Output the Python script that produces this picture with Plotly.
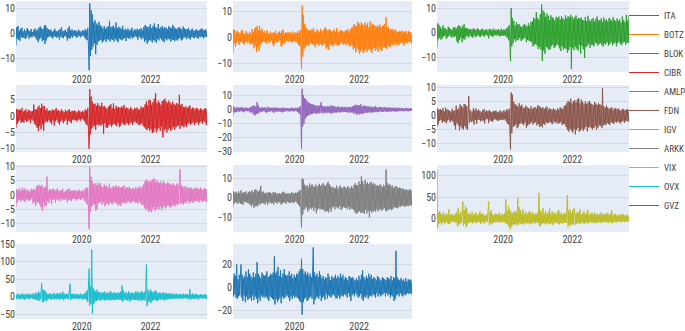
import pandas as pd
import plotly.graph_objects as go

# Weekly sampling of the period shown
start_date = "2018-02-01"
n_points = 291
dates = pd.date_range(start_date, periods=n_points, freq="7D")

names = ["ITA", "BOTZ", "BLOK", "CIBR", "AMLP", "FDN", "IGV", "ARKK", "VIX", "OVX", "GVZ"]
colors = ["#1f77b4", "#ff7f0e", "#2ca02c", "#d62728", "#9467bd", "#8c564b",
          "#e377c2", "#7f7f7f", "#bcbd22", "#17becf", "#1f77b4"]

# one row = one quarter (13 weeks)
ita = [-4.8, 2.6, -1.9, 3.1, -2.4, 1.2, -2.8, 2.0, -1.3, 2.4, -1.7, 0.9, -1.5,
       1.8, -2.1, 1.1, -1.6, 2.3, -0.8, 1.4, -2.0, 1.0, -1.2, 1.9, -1.4, 0.7,
       -1.1, 1.6, -0.9, 2.1, -1.8, 1.3, -2.6, 1.7, -3.4, 2.5, -2.2, 2.9, -1.6,
       2.2, -3.0, 1.8, -2.5, 3.3, -4.1, 3.5, -2.7, 2.4, -1.5, 1.9, -1.2, 1.4,
       -1.0, 1.7, -1.4, 0.8, -1.9, 1.2, -0.9, 2.0, -1.3, 1.1, -1.6, 0.9, -1.2,
       1.5, -2.3, 1.9, -1.1, 2.7, -1.5, 1.0, -1.8, 1.3, -0.9, 1.6, -1.2, 0.8,
       -2.8, 2.2, -1.7, 3.1, -2.0, 1.4, -1.1, 1.8, -1.5, 1.2, -0.8, 1.4, -1.0,
       1.3, -1.6, 0.9, -1.2, 1.7, -0.9, 1.1, -1.4, 0.8, -1.0, 1.5, -0.7, 1.2,
       -1.4, 1.8, -2.2, 1.3, -2.6, 2.4, -4.6, -14.7, 12.3, -9.0, 9.5, -6.5, 7.8,
       -5.2, 4.6, -3.8, 5.5, -8.2, 4.2, -4.5, 3.6, -3.1, 4.8, -2.7, 3.4, -2.5,
       2.9, -3.6, 2.2, -2.8, 3.1, -2.4, 1.9, -3.3, 2.6, -2.1, 3.0, -2.6, 5.2,
       -3.0, 2.6, -2.2, 2.9, -2.5, 3.3, -3.1, 2.4, -2.0, 4.5, -2.7, 2.1, -3.4,
       2.8, -1.9, 2.5, -2.3, 1.8, -2.6, 3.2, -2.0, 1.6, -1.7, 2.0, -2.9, 1.4,
       -1.5, 2.2, -1.8, 1.3, -2.1, 1.6, -1.2, 2.4, -1.9, 1.1, -1.4, 1.8, -1.0,
       1.6, -1.3, 2.0, -2.4, 1.5, -1.1, 1.9, -1.7, 2.3, -2.2, 1.3, -1.6, 2.7,
       -3.3, 3.5, -2.6, 3.0, -4.0, 2.5, -3.1, 2.9, -2.4, 3.8, -2.8, 2.2, -3.5,
       3.1, -2.5, 4.2, -3.0, 2.6, -3.6, 2.3, -2.1, 3.9, -2.7, 2.0, -1.8, 2.6,
       -2.3, 3.2, -2.9, 2.1, -3.4, 2.7, -1.9, 2.4, -2.6, 1.8, -2.2, 3.0, -2.0,
       2.5, -3.1, 2.2, -2.6, 3.6, -2.4, 2.8, -3.0, 2.1, -2.5, 1.9, -2.8, 2.4,
       -2.0, 2.6, -1.8, 2.2, -2.7, 1.7, -2.3, 2.9, -1.6, 2.1, -1.4, 1.9, -2.2,
       1.8, -1.5, 2.4, -1.9, 1.3, -2.3, 1.7, -1.2, 2.0, -1.6, 1.1, -1.8, 1.5,
       -1.3, 1.9, -1.6, 1.2, -2.0, 1.5, -1.1, 1.7, -1.4, 2.2, -1.2, 1.6, -1.9,
       1.4, -1.1, 1.8, -1.3, 1.0]

botz = [-6.3, 3.2, -2.4, 2.8, -3.5, 1.9, -2.2, 2.6, -1.5, 2.1, -2.9, 1.4, -1.8,
        2.4, -1.7, 3.0, -2.2, 1.6, -2.8, 1.3, -1.9, 2.5, -1.4, 1.8, -2.3, 1.2,
        -1.6, 2.2, -2.7, 1.5, -2.0, 3.3, -2.5, 2.0, -4.2, 3.4, -3.0, 4.1, -5.6,
        4.4, -3.6, 2.9, -5.2, 4.6, -3.1, 2.7, -2.3, 3.5, -1.8, 2.2, -1.5, 2.6,
        -1.9, 1.6, -2.4, 2.9, -1.3, 1.8, -2.1, 1.4, -1.7, 2.3, -1.2, 1.5, -2.6,
        2.0, -3.4, 1.7, -2.2, 2.8, -1.6, 1.3, -2.0, 1.9, -1.4, 2.4, -1.1, 1.6,
        -3.6, 2.5, -2.9, 3.1, -1.8, 1.4, -2.3, 2.0, -1.5, 1.7, -1.2, 2.2, -1.6,
        1.8, -1.4, 2.1, -1.7, 1.3, -1.9, 2.4, -1.2, 1.6, -1.5, 2.0, -1.3, 1.7,
        -2.1, 2.6, -2.8, 1.9, -3.2, 3.0, -5.0, -12.3, 12.5, -7.5, 8.8, -4.6, 5.4,
        -3.9, 4.1, -3.0, 3.5, -2.7, 3.0, -3.4, 2.6, -2.4, 3.2, -2.1, 2.8, -2.6,
        3.6, -2.9, 2.5, -3.8, 2.2, -2.6, 3.1, -2.4, 2.7, -3.3, 2.0, -2.5, 3.4,
        -2.8, 2.3, -3.2, 2.9, -2.2, 3.5, -2.6, 4.0, -4.4, 3.1, -3.6, 2.7, -4.8,
        3.3, -2.5, 2.9, -3.2, 2.2, -2.8, 2.6, -3.5, 3.1, -2.4, 2.0, -3.0, 3.7,
        -2.7, 2.4, -3.3, 2.1, -2.6, 3.0, -2.2, 2.8, -1.9, 2.5, -2.9, 2.2, -2.4,
        2.9, -3.1, 2.6, -2.3, 3.4, -2.7, 2.2, -3.6, 3.2, -2.9, 3.8, -3.3, 4.1,
        -4.7, 5.3, -4.0, 4.6, -5.8, 4.4, -3.9, 6.2, -5.0, 5.6, -6.4, 4.8, -5.5,
        6.0, -4.6, 5.2, -6.1, 4.4, -5.3, 5.8, -4.2, 4.9, -5.7, 5.5, -4.8, 4.0,
        -4.3, 6.3, -5.1, 4.7, -6.0, 5.4, -4.5, 5.0, -3.9, 4.6, -5.2, 4.1, -4.4,
        4.8, -5.6, 4.2, -3.8, 5.1, -4.7, 3.9, -5.3, 4.5, -4.0, 4.9, -3.6, 5.3,
        -4.1, 8.0, -4.5, 3.6, -3.1, 4.2, -3.5, 2.9, -3.8, 3.3, -2.6, 3.4, -3.0,
        2.5, -2.8, 3.1, -2.2, 2.7, -3.2, 2.3, -2.4, 2.0, -2.9, 2.6, -2.1, 2.4,
        -1.8, 2.7, -2.4, 2.0, -3.2, 2.3, -1.9, 2.5, -2.2, 1.7, -2.0, 2.6, -1.8,
        2.2, -1.6, 2.0, -2.3, 1.5]

blok = [-5.8, 3.8, -2.6, 3.2, -1.9, 2.4, -2.8, 1.6, -2.2, 3.0, -1.5, 2.0, -1.2,
        1.7, -2.4, 1.3, -1.8, 2.5, -1.4, 1.9, -1.1, 1.5, -2.0, 1.2, -1.6, 2.2,
        -1.8, 2.2, -1.3, 1.7, -3.5, 2.5, -4.2, 3.1, -3.0, 2.6, -2.0, 1.9, -3.8,
        2.9, -2.4, 3.4, -2.7, 1.9, -1.5, 2.0, -1.2, 1.6, -1.9, 1.3, -1.0, 1.5,
        -1.6, 1.3, -2.0, 1.8, -1.1, 1.5, -1.8, 1.2, -1.4, 1.9, -1.0, 1.3, -1.5,
        1.1, -1.7, 1.4, -0.9, 1.6, -1.3, 1.0, -1.5, 1.2, -0.8, 1.4, -1.1, 0.9,
        -2.3, 1.6, -1.0, 1.4, -1.3, 1.1, -1.6, 1.8, -1.2, 1.0, -0.9, 1.3, -1.1,
        1.2, -0.9, 1.5, -1.3, 1.0, -1.4, 1.7, -1.1, 0.9, -1.2, 1.4, -1.0, 1.3,
        -1.4, 1.7, -2.0, 2.3, -3.0, 3.1, -3.8, -11.5, 10.0, -5.5, 6.0, -4.2, 4.8,
        -2.6, 2.9, -3.5, 4.2, -2.8, 3.4, -3.0, 3.5, -2.1, 2.6, -3.3, 2.2, -2.7,
        2.9, -2.4, 3.6, -2.0, 3.1, -3.8, 2.5, -2.9, 4.0, -3.2, 2.8, -3.5, 4.4,
        -3.8, 4.7, -5.5, 6.2, -4.9, 5.6, -4.4, 8.4, -5.1, 6.0, -6.6, 5.3, -5.8,
        7.5, -6.8, 11.5, -11.4, 9.0, -7.2, 8.3, -8.5, 6.4, -5.7, 7.8, -6.1, 6.9,
        -7.0, 5.2, -6.6, 7.1, -5.4, 6.3, -4.9, 5.8, -6.2, 5.0, -5.6, 6.5, -4.7,
        5.9, -5.1, 6.6, -6.3, 5.4, -7.4, 6.8, -5.5, 6.0, -6.9, 5.3, -6.2, 7.1,
        -6.6, 5.9, -8.0, 6.8, -7.1, 6.2, -5.8, 7.3, -14.7, 6.5, -6.0, 5.6, -7.0,
        6.4, -5.6, 7.0, -6.4, 5.5, -7.2, 6.1, -5.0, 5.8, -8.6, 6.2, -5.3, 5.1,
        -6.7, 5.1, -10.2, 6.4, -5.8, 4.7, -5.2, 6.9, -4.4, 5.3, -6.1, 4.8, -5.0,
        5.6, -4.8, 6.0, -5.5, 4.6, -3.9, 5.7, -4.3, 6.6, -5.1, 4.9, -4.5, 5.2,
        -4.0, 5.8, -4.9, 4.4, -5.6, 6.2, -4.3, 5.0, -4.7, 5.5, -3.9, 4.6, -5.2,
        6.0, -4.6, 5.4, -3.8, 4.9, -5.1, 6.3, -4.4, 5.2, -4.0, 4.7, -5.5, 5.8,
        -4.2, 4.8, -3.6, 5.5, -4.5, 4.1, -5.0, 6.6, -4.0, 5.1, -3.7, 4.4, -4.8,
        7.3, -4.2, 5.0, -3.9, 7.0]

cibr = [-3.8, 2.2, -2.4, 1.9, -1.6, 2.0, -1.3, 1.8, -2.1, 2.5, -1.7, 1.4, -2.0,
        1.6, -1.2, 2.1, -1.8, 1.3, -1.5, 1.9, -1.1, 1.7, -2.2, 1.4, -1.0, 1.5,
        -1.4, 3.5, -2.3, 2.1, -2.8, 1.9, -3.6, 2.6, -4.6, 3.2, -3.0, 2.4, -4.0,
        3.8, -2.6, 2.9, -4.5, 3.1, -2.0, 1.7, -1.5, 2.3, -1.9, 1.5, -1.2, 1.8,
        -1.9, 1.5, -2.5, 2.0, -1.3, 1.7, -2.9, 1.9, -1.6, 2.4, -1.1, 1.6, -2.0,
        1.8, -2.6, 1.4, -1.7, 2.1, -1.3, 1.6, -2.2, 1.2, -1.5, 1.9, -1.0, 1.4,
        -2.6, 1.8, -1.4, 2.1, -1.7, 1.3, -2.2, 1.6, -1.1, 1.5, -1.3, 1.7, -1.2,
        1.4, -1.6, 1.1, -1.3, 1.8, -1.0, 1.5, -1.4, 1.2, -0.9, 1.6, -1.1, 1.3,
        -1.6, 2.0, -2.3, 1.7, -2.8, 2.5, -4.4, -10.0, 8.2, -5.6, 6.0, -3.8, 4.4,
        -3.3, 3.6, -2.9, 3.8, -4.2, 3.1, -2.6, 4.0, -2.8, 3.3, -2.5, 2.9, -3.0,
        4.1, -2.4, 2.9, -5.5, 3.1, -2.2, 2.6, -3.5, 2.2, -3.6, 2.8, -2.9, 3.2,
        -2.6, 3.6, -3.3, 2.4, -2.7, 3.9, -2.3, 2.2, -2.7, 3.1, -3.1, 2.5, -2.2,
        2.8, -3.4, 2.5, -3.0, 2.9, -2.1, 2.7, -2.5, 3.4, -2.8, 2.3, -2.4, 2.6,
        -2.1, 2.4, -2.7, 2.0, -2.3, 2.8, -1.9, 2.2, -2.6, 1.8, -2.0, 2.5, -1.7,
        2.3, -2.0, 2.6, -2.4, 1.9, -2.8, 2.1, -2.5, 2.9, -2.2, 2.4, -3.0, 2.7,
        -3.4, 3.6, -3.9, 4.5, -4.3, 3.2, -3.7, 5.0, -4.6, 4.8, -4.0, 3.5, -5.2,
        4.3, -4.9, 5.3, -3.8, 7.0, -5.0, 3.9, -4.2, 4.7, -3.6, 4.1, -4.5, 3.5,
        -3.2, 4.6, -6.5, 4.9, -4.4, 5.3, -3.8, 4.5, -5.0, 3.9, -4.2, 4.7, -3.6,
        4.1, -4.5, 3.5, -3.9, 4.4, -3.2, 3.7, -4.1, 3.3, -3.5, 4.0, -3.0, 3.6,
        -2.9, 6.5, -3.9, 3.3, -2.9, 3.7, -3.1, 2.8, -3.4, 2.6, -2.7, 3.0, -3.3,
        2.5, -2.4, 2.8, -2.1, 3.2, -2.6, 2.2, -2.3, 2.6, -1.9, 2.4, -2.8, 2.0,
        -2.2, 2.5, -1.9, 2.3, -2.6, 1.8, -2.1, 2.4, -1.7, 2.0, -2.4, 1.9, -1.6,
        2.2, -1.9, 2.4, -2.8, 2.0]

amlp = [-4.2, 2.3, -1.8, 1.5, -2.0, 1.2, -1.6, 1.9, -1.1, 1.4, -1.7, 1.3, -0.9,
        1.6, -1.2, 1.8, -1.4, 1.1, -1.9, 1.3, -0.8, 1.5, -1.0, 1.2, -1.3, 0.9,
        -1.1, 1.4, -2.2, 1.8, -1.4, 2.5, -2.8, 3.0, -3.5, 2.6, -4.1, 2.2, -3.0,
        5.2, -3.0, 3.3, -2.4, 1.5, -1.8, 1.2, -1.6, 1.9, -1.2, 1.4, -1.1, 1.7,
        -1.5, 1.0, -2.3, 1.5, -1.8, 2.0, -1.3, 1.1, -1.6, 1.4, -0.9, 1.2, -1.4,
        1.3, -2.4, 1.6, -1.2, 1.1, -1.7, 1.4, -1.0, 1.3, -1.5, 1.0, -1.2, 0.8,
        -1.6, 1.2, -2.1, 1.6, -1.3, 1.0, -1.5, 1.1, -0.9, 1.3, -1.1, 0.9, -1.2,
        1.0, -1.3, 0.8, -1.1, 1.4, -0.9, 1.2, -1.5, 0.9, -1.0, 1.3, -0.8, 1.1,
        -1.6, 1.2, -2.1, 1.8, -3.2, 2.5, -6.0, -28.0, 15.0, -12.0, 10.5, -10.0, 8.2,
        -6.5, 7.5, -5.2, 6.0, -4.5, 5.3, -4.0, 4.6, -3.5, 4.1, -3.2, 3.8, -3.0,
        3.6, -2.7, 3.2, -2.5, 2.9, -3.3, 2.6, -2.4, 3.0, -2.8, 2.7, -2.4, 3.4,
        5.4, -2.1, 2.5, -2.9, 2.2, -2.0, 2.6, -2.3, 1.9, -2.5, 2.4, -1.8, 2.1,
        -2.6, 2.8, -2.2, 2.5, -3.0, 2.9, -2.4, 2.2, -1.9, 2.3, -2.1, 1.8, -2.2,
        2.0, -1.7, 2.2, -1.9, 1.6, -2.0, 1.8, -1.5, 2.1, -1.8, 1.5, -1.6, 1.9,
        -1.7, 2.0, -1.8, 1.6, -2.2, 1.9, -1.5, 1.7, -2.1, 1.6, -1.9, 2.3, -2.0,
        2.5, -3.0, 2.9, -2.4, 3.5, -3.8, 3.1, -2.7, 3.3, -3.6, 2.8, -3.1, 3.9,
        -2.6, 2.4, -3.4, 2.7, -2.2, 2.9, -2.5, 2.3, -2.0, 2.6, -2.3, 2.1, -1.9,
        2.4, -2.1, 1.8, -2.4, 2.2, -1.7, 1.9, -2.0, 1.6, -1.8, 2.7, -1.5, 1.7,
        -1.9, 1.5, -1.6, 2.0, -1.4, 1.8, -1.3, 1.6, -1.7, 1.4, -1.5, 1.9, -1.2,
        1.6, -1.4, 1.3, -1.7, 1.5, -1.2, 1.8, -1.3, 1.1, -1.5, 1.4, -1.0, 1.2,
        -1.3, 1.5, -1.1, 1.2, -1.6, 1.0, -1.2, 1.4, -0.9, 1.3, -1.1, 0.9, -1.0,
        1.2, -0.9, 1.1, -1.3, 0.8, -1.0, 1.2, -0.8, 1.0, -1.1, 0.9, -1.2, 0.8,
        -1.0, 1.1, -0.8, 1.0, -0.9]

fdn = [-4.0, 2.6, -3.0, 2.2, -1.8, 2.4, -1.5, 2.0, -2.5, 2.8, -1.9, 1.6, -2.2,
       2.9, -2.7, 2.3, -1.7, 2.1, -1.4, 1.8, -2.3, 1.5, -1.6, 2.5, -2.0, 1.7,
       -3.4, 2.0, -4.8, 3.6, -2.6, 2.2, -3.3, 2.7, -5.2, 4.1, -3.8, 3.5, -4.5,
       3.0, -4.9, 4.2, -3.6, 4.0, -4.5, 3.4, -5.0, 4.1, 7.0, -2.6, 2.1, -1.7,
       -2.2, 1.6, -1.9, 2.7, -3.1, 2.0, -1.4, 2.6, -2.9, 1.8, -1.5, 2.2, -1.3,
       1.7, -2.0, 1.2, -1.6, 2.0, -1.8, 2.4, -2.7, 1.5, -1.3, 1.9, -1.1, 1.6,
       -2.6, 2.1, -1.7, 1.5, -1.9, 1.3, -2.2, 1.8, -1.4, 1.6, -1.2, 1.9, -1.5,
       1.4, -1.8, 1.2, -1.6, 1.9, -1.3, 1.7, -1.5, 1.1, -1.4, 2.0, -1.2, 1.5,
       -1.8, 2.4, -2.7, 2.0, -3.1, 2.6, -4.5, -12.0, 8.3, -6.2, 7.5, -4.0, 5.0,
       -3.6, 4.2, -3.1, 3.7, -4.4, 3.3, -3.8, 4.5, -2.9, 3.5, -2.6, 4.0, -2.8,
       3.0, -3.3, 2.7, -2.4, 3.6, -4.2, 3.2, -3.5, 2.8, -3.0, 2.5, -2.7, 3.4,
       -2.2, 2.4, -3.1, 2.9, -2.5, 3.1, -2.3, 2.6, -3.4, 3.8, -2.9, 3.5, -4.0,
       3.2, -3.6, 2.6, -4.1, 3.0, -2.8, 2.5, -3.2, 2.9, -2.4, 3.3, -2.6, 2.2,
       -2.5, 2.8, -2.1, 2.4, -2.7, 2.2, -2.9, 2.6, -2.0, 2.3, -2.6, 1.9, -2.3,
       2.6, -2.9, 2.2, -2.5, 3.0, -2.3, 2.7, -3.2, 2.4, -2.8, 3.5, -3.0, 3.8,
       -4.0, 4.6, -5.0, 5.4, -5.6, 4.9, -4.7, 6.1, -5.3, 4.4, -6.0, 5.2, -4.8,
       5.6, -6.6, 4.8, -5.1, 5.9, -4.3, 6.3, -5.7, 4.5, -5.2, 5.8, -4.6, 5.0,
       -5.4, 4.0, -4.6, 5.1, -3.8, 4.3, -5.5, 4.7, -4.1, 5.3, -3.9, 4.6, -4.4,
       4.2, -4.8, 3.7, -4.3, 4.9, -3.6, 4.4, -5.0, 3.9, -4.2, 4.6, -3.4, 4.1,
       -3.5, 3.8, -4.4, 9.8, -3.5, 3.4, -3.0, 2.9, -3.3, 3.7, -2.6, 3.0, -2.8,
       2.5, -3.2, 2.7, -2.3, 3.1, -2.5, 2.2, -2.9, 2.6, -2.1, 2.8, -2.4, 2.3,
       -2.0, 2.6, -2.3, 2.1, -2.7, 1.9, -2.2, 2.5, -1.8, 2.3, -2.5, 2.0, -1.9,
       2.2, -1.8, 2.4, -2.1, 1.9]

igv = [-4.2, 2.0, -2.6, 1.8, -1.5, 2.3, -1.9, 1.4, -2.2, 2.6, -1.6, 1.9, -2.0,
       2.4, -2.5, 1.7, -1.4, 2.0, -1.8, 1.5, -2.1, 1.3, -1.6, 2.2, -1.2, 1.8,
       -3.0, 2.2, -2.4, 1.9, -3.8, 2.9, -2.6, 3.4, -2.5, 3.6, -3.4, 3.1, -4.3,
       3.6, -5.5, 2.8, -2.8, 2.5, -4.1, 3.1, -3.6, 6.5, -2.0, 1.5, -2.7, 2.2,
       -1.4, 1.9, -3.2, 2.0, -1.7, 2.3, -1.5, 1.6, -2.8, 1.9, -1.5, 2.4, -1.8,
       1.4, -2.3, 1.7, -1.2, 1.6, -1.9, 2.2, -1.4, 1.1, -1.7, 1.5, -1.3, 1.9,
       -2.6, 2.0, -1.6, 2.4, -1.8, 1.4, -2.1, 1.7, -1.3, 1.5, -1.2, 1.8, -1.4,
       1.5, -1.9, 1.3, -1.5, 2.0, -1.2, 1.6, -1.7, 1.2, -1.4, 1.8, -1.1, 1.4,
       -1.9, 2.2, -2.5, 2.8, -3.3, 2.4, -4.6, -12.0, 10.0, -6.0, 6.5, -4.1, 4.9,
       -3.5, 3.8, -3.2, 4.2, -5.4, 3.4, -5.0, 4.4, -2.9, 3.6, -2.7, 4.3, -2.5,
       3.0, -3.3, 2.8, -2.4, 3.7, -3.9, 3.0, -3.1, 3.4, -2.8, 2.6, -3.5, 4.0,
       -2.5, 2.4, -2.9, 2.7, -3.2, 3.1, -2.3, 2.9, -2.7, 3.5, -3.0, 2.5, -3.6,
       3.2, -3.3, 2.8, -3.7, 2.6, -2.9, 3.0, -2.5, 3.4, -2.7, 2.3, -3.0, 2.7,
       -2.4, 2.6, -2.2, 2.9, -2.6, 2.1, -2.8, 2.4, -2.0, 2.5, -2.3, 2.0, -2.6,
       2.8, -2.5, 2.3, -3.0, 2.6, -2.2, 3.1, -2.8, 2.5, -3.3, 3.0, -3.6, 3.8,
       -4.3, 4.9, -5.2, 5.5, -4.8, 5.1, -5.9, 4.6, -5.4, 5.2, -6.0, 4.7, -5.0,
       5.6, -4.2, 5.9, -5.5, 4.4, -4.9, 5.3, -4.1, 4.5, -5.0, 4.2, -3.9, 4.8,
       -5.3, 4.1, -4.5, 5.0, -3.9, 4.2, -4.7, 3.8, -4.0, 4.6, -3.6, 4.3, -4.1,
       3.9, -4.4, 3.5, -3.8, 4.2, -3.3, 3.7, -4.0, 3.2, -3.6, 4.1, -3.1, 3.6,
       -3.3, 4.0, 9.2, -3.1, 3.5, -2.8, 3.0, -3.4, 2.7, -2.5, 3.2, -2.9, 2.4,
       2.8, -2.1, 2.5, -3.0, 2.6, -2.2, 2.6, -2.4, 2.1, -2.8, 2.3, -2.0, 2.5,
       -2.2, 2.6, -1.9, 2.3, -2.5, 2.0, -2.3, 2.7, -1.8, 2.2, -2.4, 1.9, -2.1,
       2.4, -1.9, 2.2, -2.5, 2.0]

arkk = [-4.5, 3.4, -3.0, 2.7, -2.1, 3.1, -2.5, 2.2, -3.0, 3.4, -2.3, 2.6, -2.8,
        3.9, -3.1, 2.4, -3.6, 2.9, -2.2, 2.7, -1.9, 3.3, -2.6, 2.1, -2.4, 3.0,
        -2.9, 3.5, -3.6, 2.9, -4.4, 3.8, -3.2, 2.8, -5.0, 4.0, -4.2, 4.5, -3.9,
        3.6, -4.3, 3.2, -3.0, 4.1, -3.4, 6.2, -2.7, 2.8, -2.4, 3.3, -2.9, 2.2,
        -3.3, 2.7, -2.0, 2.5, -3.7, 2.8, -2.5, 3.0, -2.2, 2.6, -2.9, 2.1, -2.4,
        2.9, -3.4, 2.6, -2.1, 2.9, -2.6, 2.0, -2.9, 2.4, -1.8, 2.3, -2.5, 2.0,
        -3.4, 2.6, -2.8, 3.2, -2.1, 2.9, -2.6, 2.0, -2.9, 2.4, -1.8, 2.3, -2.2,
        2.5, -2.7, 2.0, -2.4, 3.0, -2.1, 2.6, -2.8, 2.2, -2.0, 2.7, -1.9, 2.4,
        -2.7, 3.0, -3.4, 3.6, -4.5, 4.0, -6.0, -15.0, 10.0, -8.5, 9.3, -6.2, 6.8,
        -5.4, 5.9, -4.6, 6.5, -7.0, 5.2, -6.1, 7.4, -5.0, 6.3, -5.7, 7.0, -4.8,
        6.0, -6.6, 5.5, -5.1, 6.9, -7.8, 5.7, -6.0, 6.4, -5.3, 7.2, -5.9, 6.1,
        -5.6, 6.8, -6.2, 7.5, -5.8, 6.6, -7.1, 6.0, -6.5, 7.3, -6.8, 8.2, -7.4,
        7.0, -5.4, 6.1, -7.0, 5.2, -4.8, 5.7, -4.3, 4.8, -5.9, 5.1, -4.6, 6.3,
        -5.0, 4.4, -5.5, 5.6, -4.2, 6.5, -6.2, 4.9, -5.3, 5.2, -4.5, 5.8, -4.9,
        5.4, -5.1, 4.7, -5.8, 5.9, -4.6, 5.3, -6.0, 4.8, -5.4, 6.1, -5.6, 5.0,
        -5.9, 6.6, -6.9, 7.5, -7.8, 6.6, -8.0, 6.3, -7.2, 8.4, -6.7, 7.1, -7.5,
        11.0, -7.7, 8.6, -7.4, 6.8, -8.3, 9.2, -6.0, 7.3, -7.9, 8.0, -6.6, 7.1,
        -10.0, 7.7, -6.5, 8.2, -7.4, 6.8, -7.0, 7.6, -6.3, 6.9, -7.1, 6.2, -5.8,
        6.5, -6.8, 5.9, -6.2, 7.0, -5.6, 6.3, -6.6, 5.4, -6.0, 6.7, -5.2, 6.1,
        -6.5, 14.5, -6.8, 7.7, -6.2, 6.4, -5.9, 7.0, -5.5, 5.8, -6.3, 6.5, -5.7,
        5.0, -4.7, 5.6, -5.0, 6.1, -4.9, 5.4, -5.3, 4.8, -4.4, 5.3, -4.6, 5.0,
        -4.1, 4.5, -3.9, 4.8, -4.3, 4.0, -4.6, 4.4, -3.8, 4.2, -4.0, 3.7, -4.2,
        4.5, -3.6, 4.1, -3.9, 3.8]

vix = [115.0, -22.0, 14.0, -12.0, 18.0, -9.0, 12.0, -14.0, 9.0, -8.0, 15.0, -11.0, 8.0,
       -10.0, 12.0, -7.0, 9.0, -13.0, 22.0, -12.0, 8.0, -9.0, 11.0, -6.0, 10.0, -8.0,
       7.0, -9.0, 12.0, -8.0, 15.0, -18.0, 25.0, -14.0, 10.0, -12.0, 16.0, -10.0, 19.0,
       40.0, -16.0, 20.0, -12.0, 30.0, -20.0, 24.0, -15.0, 11.0, -9.0, 13.0, -10.0, 9.0,
       -8.0, 16.0, -11.0, 9.0, -7.0, 12.0, -9.0, 14.0, -10.0, 8.0, -8.0, 11.0, -7.0,
       18.0, -12.0, 10.0, -9.0, 13.0, -8.0, 9.0, -11.0, 7.0, -6.0, 10.0, -8.0, 12.0,
       40.0, -15.0, 14.0, -10.0, 20.0, -13.0, 10.0, -9.0, 8.0, -7.0, 12.0, -9.0, 11.0,
       -8.0, 9.0, -7.0, 14.0, -10.0, 8.0, -6.0, 11.0, -9.0, 10.0, -7.0, 12.0, -10.0,
       45.0, -12.0, 18.0, -14.0, 30.0, -20.0, 22.0, -25.0, 15.0, -18.0, 12.0, -14.0, 16.0,
       -12.0, 18.0, -16.0, 14.0, -12.0, 48.0, -15.0, 27.0, -10.0, 20.0, -13.0, 12.0, -11.0,
       22.0, -14.0, 10.0, -9.0, 16.0, -12.0, 11.0, -10.0, 14.0, -11.0, 18.0, -13.0, 12.0,
       -10.0, 15.0, -12.0, 9.0, -8.0, 13.0, -11.0, 10.0, -9.0, 14.0, -10.0, 60.0, -18.0,
       20.0, -15.0, 14.0, -12.0, 25.0, -10.0, 12.0, -11.0, 18.0, -14.0, 11.0, -9.0, 15.0,
       -13.0, 24.0, -12.0, 10.0, -10.0, 17.0, -15.0, 12.0, -9.0, 14.0, -11.0, 10.0, -8.0,
       16.0, -12.0, 20.0, -13.0, 11.0, -10.0, 15.0, -12.0, 9.0, -8.0, 13.0, -10.0, 12.0,
       -10.0, 15.0, 55.0, -20.0, 18.0, -14.0, 22.0, -16.0, 13.0, -12.0, 20.0, -15.0, 25.0,
       18.0, -14.0, 12.0, -11.0, 16.0, -12.0, 14.0, -10.0, 22.0, -13.0, 9.0, -8.0, 12.0,
       -11.0, 17.0, -12.0, 10.0, -9.0, 14.0, -10.0, 20.0, -11.0, 8.0, -7.0, 12.0, -9.0,
       13.0, -10.0, 11.0, -8.0, 15.0, -11.0, 9.0, -9.0, 12.0, -10.0, 8.0, -7.0, 11.0,
       -9.0, 15.0, -10.0, 9.0, -8.0, 11.0, -7.0, 12.0, -9.0, 10.0, -8.0, 14.0, -10.0,
       9.0, -8.0, 12.0, -9.0, 20.0, -11.0, 8.0, -7.0, 10.0, -8.0, 12.0, -9.0, 7.0,
       -7.0, 9.0, -6.0, 8.0, -8.0, 11.0, -7.0, 9.0, -6.0, 10.0, -8.0, 7.0, -6.0,
       9.0, -7.0, 8.0, -6.0, 7.0]

ovx = [8.0, -7.0, 6.0, -5.0, 9.0, -6.0, 5.0, -8.0, 7.0, -5.0, 10.0, -7.0, 6.0,
       -9.0, 7.0, -6.0, 8.0, -5.0, 6.0, -7.0, 9.0, -6.0, 5.0, -4.0, 7.0, -5.0,
       10.0, -7.0, 6.0, -9.0, 12.0, -8.0, 9.0, -10.0, 15.0, -12.0, 11.0, -8.0, 14.0,
       38.0, -16.0, 20.0, -14.0, 18.0, -11.0, 15.0, -13.0, 9.0, -8.0, 7.0, -6.0, 10.0,
       -7.0, 8.0, -9.0, 6.0, -5.0, 12.0, -8.0, 7.0, -6.0, 9.0, -8.0, 10.0, -6.0,
       7.0, -9.0, 11.0, -7.0, 8.0, -6.0, 14.0, -10.0, 9.0, -7.0, 6.0, -5.0, 8.0,
       -6.0, 9.0, -7.0, 14.0, 37.0, -10.0, 8.0, -6.0, 7.0, -5.0, 9.0, -7.0, 6.0,
       -5.0, 7.0, -6.0, 8.0, -7.0, 5.0, -6.0, 9.0, -5.0, 6.0, -8.0, 7.0, -6.0,
       10.0, -7.0, 12.0, -10.0, 18.0, -15.0, 25.0, 80.0, -25.0, 30.0, -20.0, 135.0, -48.0,
       25.0, -20.0, 18.0, -14.0, 15.0, -12.0, 20.0, -10.0, 12.0, -9.0, 14.0, -11.0, 10.0,
       -8.0, 13.0, -9.0, 11.0, -10.0, 15.0, -12.0, 9.0, -8.0, 12.0, -10.0, 10.0, -9.0,
       16.0, -11.0, 12.0, -9.0, 10.0, -8.0, 13.0, -10.0, 11.0, -9.0, 9.0, -7.0, 12.0,
       -8.0, 10.0, -9.0, 14.0, -10.0, 32.0, -15.0, 18.0, -9.0, 11.0, -8.0, 13.0, -10.0,
       9.0, -12.0, 16.0, -8.0, 10.0, -14.0, 12.0, -9.0, 11.0, -8.0, 10.0, -9.0, 14.0,
       -10.0, 12.0, -9.0, 15.0, -11.0, 10.0, -8.0, 13.0, -12.0, 16.0, -10.0, 11.0, -9.0,
       14.0, -11.0, 20.0, 92.0, -27.0, 20.0, -15.0, 14.0, -12.0, 22.0, -18.0, 16.0, -11.0,
       12.0, -10.0, 15.0, -9.0, 18.0, -12.0, 13.0, -11.0, 10.0, -8.0, 12.0, -9.0, 11.0,
       -8.0, 10.0, -7.0, 13.0, -11.0, 9.0, -7.0, 11.0, -9.0, 8.0, -6.0, 10.0, -7.0,
       8.0, -6.0, 10.0, -7.0, 6.0, -5.0, 9.0, -6.0, 7.0, -5.0, 8.0, -6.0, 7.0,
       -5.0, 8.0, -6.0, 6.0, -5.0, 7.0, -6.0, 9.0, -5.0, 6.0, -4.0, 7.0, -5.0,
       8.0, -6.0, 5.0, -7.0, 22.0, -8.0, 6.0, -5.0, 9.0, -7.0, 6.0, -5.0, 8.0,
       -6.0, 7.0, -5.0, 6.0, -9.0, 5.0, -4.0, 7.0, -5.0, 6.0, -6.0, 5.0, -4.0,
       6.0, -5.0, 7.0, -6.0, 5.0]

gvz = [9.0, -8.0, 12.0, -6.0, 10.0, -9.0, 20.0, -10.0, 7.0, -8.0, 11.0, -7.0, 9.0,
       20.0, -9.0, 11.0, -12.0, 8.0, -7.0, 10.0, -13.0, 14.0, -8.0, 9.0, -11.0, 16.0,
       -10.0, 12.0, -9.0, 10.0, -12.0, 8.0, -7.0, 13.0, -11.0, 9.0, -8.0, 12.0, -10.0,
       22.0, -14.0, 12.0, -9.0, 10.0, -12.0, 8.0, -7.0, 13.0, -9.0, 11.0, -8.0, 10.0,
       -9.0, 11.0, -8.0, 14.0, -10.0, 9.0, -12.0, 10.0, -8.0, 12.0, -9.0, 11.0, -10.0,
       13.0, -11.0, 27.0, -15.0, 12.0, -10.0, 14.0, -13.0, 18.0, -11.0, 10.0, -9.0, 15.0,
       -14.0, 9.0, -8.0, 12.0, -10.0, 16.0, -9.0, 11.0, -8.0, 10.0, -7.0, 11.0, -9.0,
       14.0, -12.0, 10.0, -8.0, 12.0, -10.0, 8.0, -7.0, 11.0, -9.0, 9.0, -8.0, 12.0,
       -9.0, 11.0, -10.0, 14.0, -12.0, 16.0, -13.0, 25.0, -24.0, 16.0, -13.0, 12.0, -10.0,
       14.0, -9.0, 11.0, -12.0, 13.0, -11.0, 10.0, -9.0, 12.0, -8.0, 9.0, -10.0, 14.0,
       35.0, -15.0, 13.0, -11.0, 10.0, -9.0, 12.0, -8.0, 9.0, -10.0, 14.0, -7.0, 11.0,
       -12.0, 8.0, -9.0, 10.0, -8.0, 7.0, -11.0, 9.0, -6.0, 8.0, -10.0, 12.0, -7.0,
       9.0, -8.0, 6.0, -9.0, 10.0, -7.0, 8.0, -6.0, 9.0, -8.0, 11.0, -10.0, 8.0,
       -9.0, 10.0, -7.0, 8.0, -10.0, 12.0, -8.0, 9.0, -7.0, 11.0, -8.0, 7.0, -6.0,
       9.0, -7.0, 8.0, -9.0, 6.0, -5.0, 10.0, -8.0, 9.0, -12.0, 8.0, -7.0, 9.0,
       -6.0, 7.0, -8.0, 6.0, -5.0, 8.0, -7.0, 6.0, -9.0, 10.0, -8.0, 7.0, -6.0,
       11.0, -10.0, 15.0, -12.0, 9.0, -8.0, 7.0, -9.0, 10.0, -7.0, 8.0, -10.0, 12.0,
       -8.0, 9.0, -7.0, 11.0, -8.0, 7.0, -6.0, 9.0, -7.0, 8.0, -9.0, 6.0, -5.0,
       10.0, -8.0, 9.0, -6.0, 7.0, -8.0, 6.0, -7.0, 9.0, -6.0, 8.0, -5.0, 7.0,
       -8.0, 6.0, -5.0, 9.0, -7.0, 8.0, -6.0, 7.0, -9.0, 10.0, -7.0, 6.0, -8.0,
       9.0, -12.0, 8.0, -10.0, 32.0, -7.0, 9.0, -6.0, 7.0, -8.0, 6.0, -5.0, 8.0,
       -7.0, 6.0, -8.0, 7.0, -6.0, 5.0, -7.0, 8.0, -6.0, 5.0, -5.0, 7.0, -6.0,
       6.0, -5.0, 7.0, -6.0, 5.0]

series = [ita, botz, blok, cibr, amlp, fdn, igv, arkk, vix, ovx, gvz]
for nm, s in zip(names, series):
    assert len(s) == n_points, (nm, len(s))

# axis settings per panel
y_ranges = [[-15.4, 13.2], [-13.5, 14.3], [-15.9, 12.9], [-11.0, 9.5],
            [-30.3, 17.6], [-12.9, 11.0], [-13.0, 10.6], [-17.4, 16.8],
            [-31, 125], [-64, 151], [-27.8, 38]]
y_dticks = [10, 10, 10, 5, 10, 5, 5, 10, 50, 50, 20]
x_tickvals = ["2020-01-01", "2022-01-01"]
x_ticktext = ["2020", "2022"]
x_range = ["2018-02-01", "2023-08-24"]

W, H = 685, 331
ML, MR, MT, MB = 16, 56, 1, 11
pw, ph = W - ML - MR, H - MT - MB

col_px = [(16, 207), (233, 412), (437, 629)]
row_px = [(1, 72), (85, 152), (165, 232), (244, 319)]

def xdom(c):
    a, b = col_px[c]
    return [(a - ML) / pw, (b - ML) / pw]

def ydom(r):
    a, b = row_px[r]
    return [(H - MB - b) / ph, (H - MB - a) / ph]

FONT = "Liberation Sans Narrow, Roboto Condensed, DejaVu Sans Condensed, Arial Narrow, sans-serif"

fig = go.Figure()
layout = {}
for k, (nm, s, col) in enumerate(zip(names, series, colors)):
    idx = k + 1
    r, c = divmod(k, 3)
    xa = "x" if idx == 1 else f"x{idx}"
    ya = "y" if idx == 1 else f"y{idx}"
    fig.add_trace(go.Scatter(x=dates, y=s, mode="lines", name=nm,
                             line=dict(color=col, width=1),
                             xaxis=xa, yaxis=ya))
    layout["xaxis" if idx == 1 else f"xaxis{idx}"] = dict(
        domain=xdom(c), anchor=ya, range=x_range, type="date",
        tickvals=x_tickvals, ticktext=x_ticktext, showgrid=False,
        zeroline=False, automargin=False, ticks="", showline=False,
        tickfont=dict(size=10, color="#444", family=FONT))
    layout["yaxis" if idx == 1 else f"yaxis{idx}"] = dict(
        domain=ydom(r), anchor=xa, range=y_ranges[k], dtick=y_dticks[k],
        tick0=0, showgrid=True, gridcolor="#D4D7DF", gridwidth=1,
        zeroline=False, automargin=False, ticks="", showline=False,
        tickfont=dict(size=10, color="#444", family=FONT))

fig.update_layout(**layout)
fig.update_layout(
    width=W, height=H,
    margin=dict(l=ML, r=MR, t=MT, b=MB, pad=0, autoexpand=False),
    plot_bgcolor="#E5ECF6", paper_bgcolor="white",
    font=dict(family=FONT, size=10, color="#444"),
    showlegend=True,
    legend=dict(x=1 + (624 - 629) / pw, xanchor="left",
                y=1.0, yanchor="top",
                font=dict(size=9, color="#444", family=FONT),
                bgcolor="rgba(0,0,0,0)", borderwidth=0),
)
fig.write_html("out.html",
               config={"displayModeBar": False},
               post_script="document.body.style.margin='0px';"
                           "document.body.style.padding='0px';")
